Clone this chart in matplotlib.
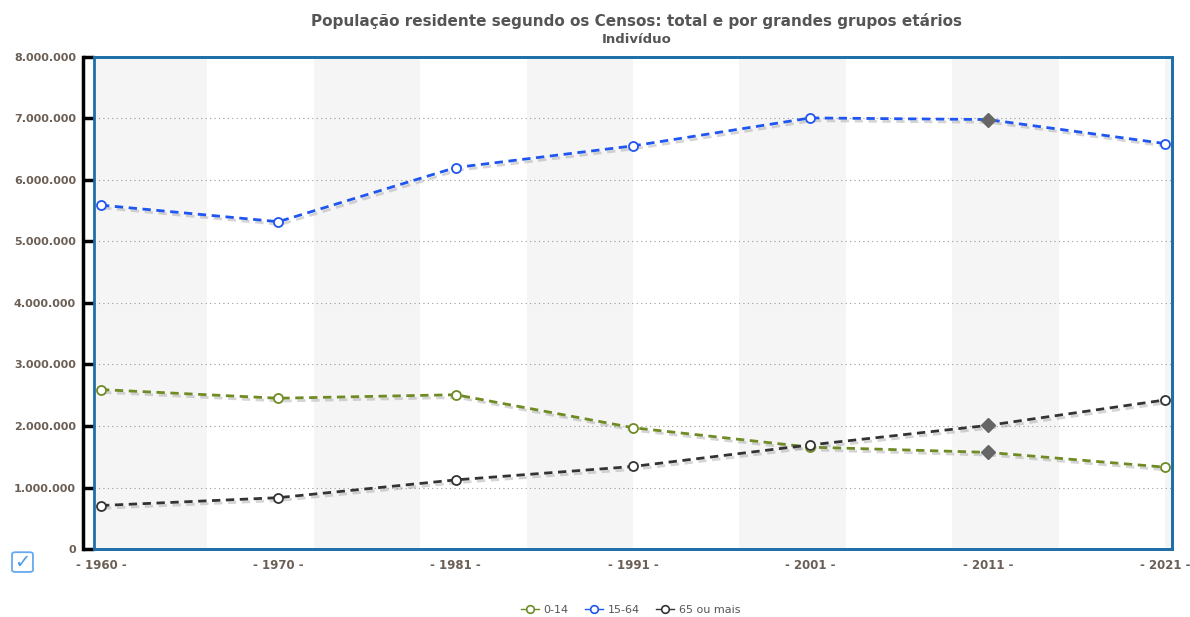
import matplotlib.pyplot as plt
import matplotlib.patheffects as pe
from matplotlib.patches import FancyBboxPatch, Rectangle
from matplotlib.ticker import FuncFormatter

anos = ['1960', '1970', '1981', '1991', '2001', '2011', '2021']
jovens = [2591955, 2451850, 2508673, 1972403, 1656602, 1572329, 1331396]
ativos = [5588868, 5320000, 6200000, 6552000, 7006022, 6979785, 6589362]
idosos = [708570, 836000, 1125000, 1342744, 1693493, 2010064, 2423639]

series = [('0-14', jovens, '#6e8b24'),
          ('15-64', ativos, '#1f55f0'),
          ('65 ou mais', idosos, '#333333')]
destaque = 5  # ano em destaque (2011)

fig = plt.figure(figsize=(11.9, 6.17), dpi=100)
ax = fig.add_axes([0.079, 0.110, 0.906, 0.798])
x = list(range(len(anos)))

# faixas cinzentas alternadas
for k in range(6):
    ax.axvspan(k * 1.2 - 0.6 if k == 0 else k * 1.2, k * 1.2 + 0.6,
               color='#f5f5f5', zorder=0, lw=0)

ax.set_xlim(-0.0395, 6.0395)
ax.set_ylim(0, 8000000)
ax.set_yticks(range(0, 8000001, 1000000))
ax.yaxis.set_major_formatter(FuncFormatter(lambda v, p: f'{int(v):,}'.replace(',', '.')))
ax.grid(axis='y', linestyle=(0, (1, 3)), color='#999999', lw=0.8)
ax.set_axisbelow(True)

sombra = [pe.SimpleLineShadow(offset=(1.5, -2), shadow_color='#888888', alpha=0.35),
          pe.Normal()]
for nome, vals, cor in series:
    ax.plot(x, vals, ls=(0, (3, 2)), lw=2, color=cor, zorder=3,
            path_effects=sombra)
    xs = [i for i in x if i != destaque]
    ax.plot(xs, [vals[i] for i in xs], ls='none', marker='o', ms=6.5,
            mfc='white', mec=cor, mew=1.3, zorder=4)
    ax.plot([destaque], [vals[destaque]], ls='none', marker='D', ms=7,
            color='#666666', zorder=4)

# moldura azul da área do gráfico
for s in ['top', 'right', 'bottom']:
    ax.spines[s].set_color('#1f6fa8')
    ax.spines[s].set_linewidth(2)
ax.spines['left'].set_visible(False)
ax.add_patch(Rectangle((0, 0), 1, 1, transform=ax.transAxes, fill=False,
                       edgecolor='#1f6fa8', lw=2, zorder=5, clip_on=False))

# eixo vertical preto afastado da moldura
eixo = ax.twinx()
eixo.set_ylim(ax.get_ylim())
eixo.yaxis.tick_left()
eixo.set_yticks([])
for s in ['top', 'right', 'bottom']:
    eixo.spines[s].set_visible(False)
eixo.spines['left'].set_position(('outward', 8))
eixo.spines['left'].set_linewidth(2.5)
eixo.spines['left'].set_color('black')
ax.tick_params(axis='y', length=8, width=2.5, color='black', pad=5,
               labelsize=8, labelcolor='#6b5f55')
ax.tick_params(axis='x', length=0, pad=7, labelsize=8.5, labelcolor='#6b5f55')
ax.set_xticks(x)
ax.set_xticklabels([f'- {a} -' for a in anos])
for lab in ax.get_yticklabels() + ax.get_xticklabels():
    lab.set_fontweight('bold')

fig.text(0.535, 0.966, 'População residente segundo os Censos: total e por grandes grupos etários',
         ha='center', va='center', fontsize=11, fontweight='bold', color='#555555')
fig.text(0.535, 0.936, 'Indivíduo', ha='center', va='center', fontsize=9.5,
         fontweight='bold', color='#555555')

# legenda
handles = [plt.Line2D([], [], color=c, lw=1, marker='o', ms=5.5, mfc='white',
                      mec=c, mew=1.2) for _, _, c in series]
leg = fig.legend(handles, [n for n, _, _ in series], loc='center',
                 bbox_to_anchor=(0.53, 0.011), ncol=3, frameon=False,
                 fontsize=8, handlelength=1.6, columnspacing=1.5,
                 handletextpad=0.4, labelcolor='#555555')

# caixa de seleção
fig.patches.append(FancyBboxPatch((0.0101, 0.073), 0.0176, 0.032,
                                  boxstyle='round,pad=0,rounding_size=0.003',
                                  transform=fig.transFigure, fill=False,
                                  edgecolor='#66aaee', lw=1.3))
fig.text(0.0189, 0.089, '✓', ha='center', va='center', fontsize=14, color='#4a9be8')

fig.savefig('out.png', dpi=100)
